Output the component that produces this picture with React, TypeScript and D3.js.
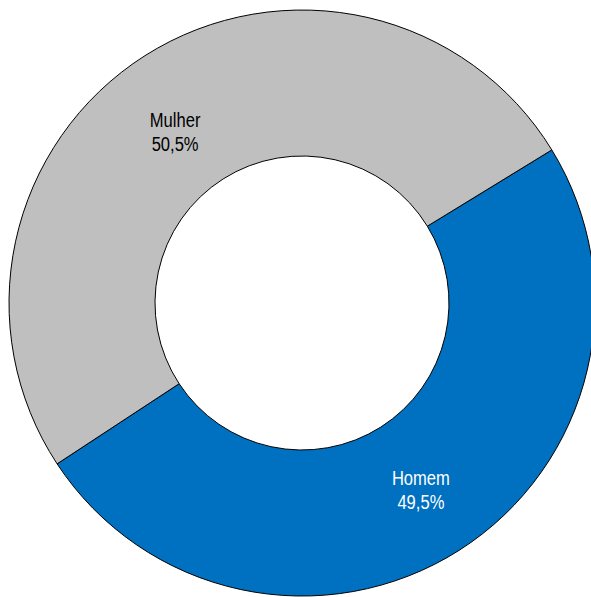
import React from "react";
import * as d3 from "d3";

const categories = ["Homem", "Mulher"];
const values = [49.5, 50.5];
const valueLabels = ["49,5%", "50,5%"];
const colors = ["#0070C0", "#BFBFBF"];
const textColors = ["#FFFFFF", "#000000"];
const labelNudge = [[1, -4], [-9, 10]];

const W = 591;
const H = 597;
const cx = 302;
const cy = 303;
const outerR = 293;
const innerR = 147;
const startDeg = 58.5;

export default function App() {
  const pie = d3
    .pie<number>()
    .sort(null)
    .startAngle((startDeg * Math.PI) / 180)
    .endAngle((startDeg * Math.PI) / 180 + 2 * Math.PI);
  const arcs = pie(values);
  const arc = d3.arc<d3.PieArcDatum<number>>().innerRadius(innerR).outerRadius(outerR);

  return (
    <svg
      width={W}
      height={H}
      style={{ position: "absolute", left: 0, top: 0, background: "#fff" }}
    >
      <g transform={`translate(${cx},${cy})`}>
        {arcs.map((a, i) => (
          <path key={categories[i]} d={arc(a) || ""} fill={colors[i]} stroke="#000" strokeWidth={1} />
        ))}
        {arcs.map((a, i) => {
          const [x, y] = arc.centroid(a);
          const lx = x + labelNudge[i][0];
          const ly = y + labelNudge[i][1];
          return (
            <g key={"t" + i} transform={`translate(${lx},${ly}) scale(0.85,1)`}>
              <text
                textAnchor="middle"
                fontFamily="'Liberation Sans', Arial, sans-serif"
                fontSize={19.5}
                fill={textColors[i]}
              >
                <tspan x={0} y={0}>{categories[i]}</tspan>
                <tspan x={0} y={24}>{valueLabels[i]}</tspan>
              </text>
            </g>
          );
        })}
      </g>
    </svg>
  );
}
